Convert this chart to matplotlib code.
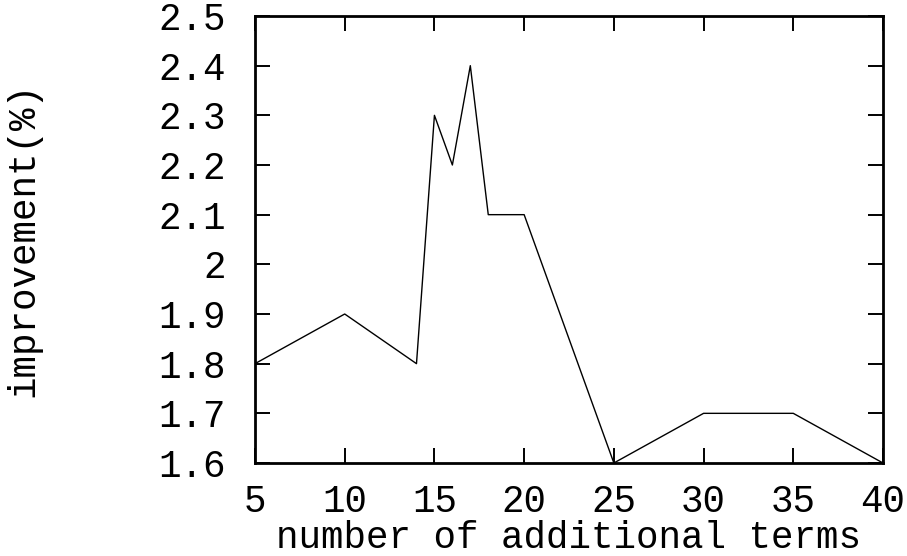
import matplotlib
matplotlib.use("Agg")
import matplotlib.pyplot as plt

terms = [5, 10, 14, 15, 16, 17, 18, 20, 25, 30, 35, 40]
improvement = [1.8, 1.9, 1.8, 2.3, 2.2, 2.4, 2.1, 2.1, 1.6, 1.7, 1.7, 1.6]
xticks = [5, 10, 15, 20, 25, 30, 35, 40]
yticks = [1.6, 1.7, 1.8, 1.9, 2.0, 2.1, 2.2, 2.3, 2.4, 2.5]
yticklabels = ["1.6", "1.7", "1.8", "1.9", "2", "2.1", "2.2", "2.3", "2.4", "2.5"]

plt.rcParams['font.family'] = ['Liberation Mono', 'DejaVu Sans Mono']
fs = 27

fig = plt.figure(figsize=(9.07, 5.56), dpi=100)
ax = fig.add_axes([255/907, 1-463/556, (883-255)/907, (463-16)/556])
ax.plot(terms, improvement, color='black', lw=1.0)
ax.set_xlim(5, 40)
ax.set_ylim(1.6, 2.5)
ax.set_xticks(xticks)
ax.set_xticklabels([str(t) for t in xticks])
ax.set_yticks(yticks)
ax.set_yticklabels(yticklabels)
ax.tick_params(direction='in', length=11, width=1.4, top=True, right=True,
               labelsize=fs, colors='black')
ax.tick_params(axis='x', pad=15)
ax.tick_params(axis='y', pad=21)
for s in ax.spines.values():
    s.set_linewidth(2.0)
ax.set_xlabel("number of additional terms", fontsize=fs, labelpad=0)
ax.set_ylabel("improvement(%)", fontsize=fs, labelpad=84)
fig.savefig("out.png", dpi=100)
